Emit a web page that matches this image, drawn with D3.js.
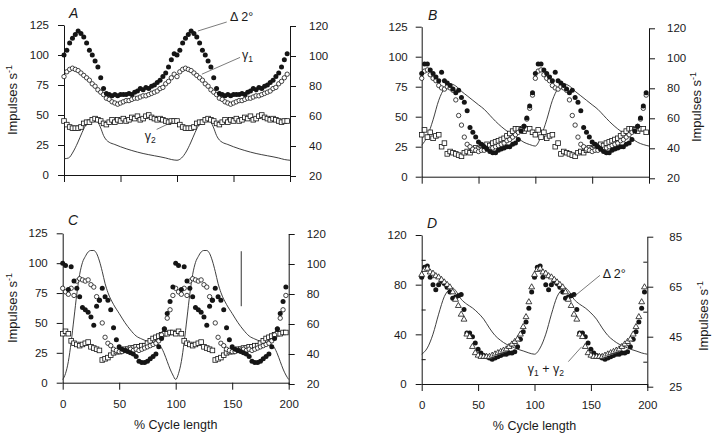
<!DOCTYPE html>
<html><head><meta charset="utf-8">
<script src="https://cdn.jsdelivr.net/npm/d3@7"></script>
<style>
body{margin:0;background:#fff}
svg{display:block}
text{font-family:"Liberation Sans",Arial,Helvetica,sans-serif;fill:#1a1a1a}
</style>
</head><body>
<svg id="c" width="720" height="438"></svg>
<script>
// ---------------- DATA (one recorded cycle, plotted twice as in the figure) ----------------
const cyclePct = [0,2.5,5,7.5,10,12.5,15,17.5,20,22.5,25,27.5,30,32.5,35,37.5,40,42.5,45,47.5,
                  50,52.5,55,57.5,60,62.5,65,67.5,70,72.5,75,77.5,80,82.5,85,87.5,90,92.5,95,97.5];
const xTicks = [0,50,100,150,200];
const leftTicksABC = [0,25,50,75,100,125];
const rightTicksABC = [20,40,60,80,100,120];
const leftTicksD = [0,40,80,120];
const leftMinorD = [20,60,100];
const rightTicksD = [25,45,65,85];
const rightMinorD = [35,55,75];

// Panel A
const A_delta = [100,104,110,114,117,120,118,115,110,104,100,95,90,81,72,68,67,66,67,66,
                 67,67,67,68,67,69,70,72,71,73,72,74,75,77,79,82,85,90,96,101];
const A_g1    = [82,86,88,89,88,87,85,83,81,79,76,74,71,69,67,64,63,61,60,59,
                 60,61,62,62,63,64,64,65,66,66,67,68,69,70,72,73,76,78,81,84];
const A_g2    = [45,42,40,39,39,39,40,43,44,44,46,47,46,45,43,42,44,46,44,46,
                 45,47,45,46,48,47,49,46,47,49,50,48,47,46,47,46,45,44,45,45];
const A_lineX = [0,4,8,12,16,20,24,27,30,32.5,35,37.5,40,45,50,60,70,80,90,95,100];
const A_lineY = [31.5,32,36,42,49,55,58,58.5,56,52,47,44,42.5,41,39.5,37,35,33.5,32,31,30.5];

// Panel B
const B_delta = [86,94,94,89,86,83,80,87,80,78,76,73,70,72,66,62,55,41,37,33,
                 29,27,25,23,21,20,20,22,23,24,25,25,27,28,31,38,42,49,59,70];
const B_g1    = [82,88,89,85,82,80,76,74,73,75,74,72,64,51,43,33,27,25,23,22,
                 21,22,22,23,23,24,25,26,27,28,30,31,33,35,37,39,42,48,57,68];
const B_g2    = [35,39,33,37,32,34,35,25,28,19,21,20,19,18,17,20,21,20,22,24,
                 23,26,25,27,26,28,29,30,31,32,34,36,38,40,40,39,38,40,40,37];
const B_lineX = [0,5,10,15,20,25,30,35,40,45,50,55,60,65,70,75,80,85,90,95,100];
const B_lineY = [42,48,59,72,80,83,81.5,78,75,72,69,66,62,58,54.5,51.5,49,46.5,44,42.5,41.5];

// Panel C
const C_delta = [100,98,78,97,85,79,72,63,61,59,55,48,64,69,79,72,69,61,46,36,
                 30,28,27,26,25,24,22,18,17,17,18,20,22,24,30,37,45,58,68,80];
const C_g1    = [79,76,74,79,73,85,87,86,85,86,82,80,72,69,50,38,33,31,28,27,
                 26,26,27,27,28,27,28,27,28,29,30,31,32,33,35,40,45,54,61,73];
const C_g2    = [41,43,41,35,33,32,31,32,33,34,30,29,28,27,19,20,21,23,25,26,
                 26,27,28,28,29,29,30,30,31,31,33,35,37,38,39,40,41,41,42,42];
const C_lineX = [0,2.5,5,7.5,10,12.5,15,17.5,20,22.5,25,27.5,30,32.5,35,37.5,40,45,50,55,
                 60,65,70,75,80,85,87.5,90,92.5,95,97.5,100];
const C_lineY = [23,27,35,48,64,80,93,101,105,108,109,109,107,102,95,87,81,73,67,61,
                 56,52,50,48.5,47.5,46,44,40,35,30,26,23];
const C_bar = {pct:158, from:64, to:110};

// Panel D
const D_delta = [86,94,95,86,80,76,80,83,81,78,74,69,70,71,72,60,41,41,38,33,
                 28,25,23,22,21,20,21,22,23,24,24,25,25,26,30,36,42,50,61,74];
const D_sum   = [88,92,93,90,89,87,86,84,82,80,78,74,68,63,56,52,40,38,30,25,
                 23,22,22,22,22,23,24,25,26,27,28,30,32,34,36,40,46,54,66,78];
const D_lineX = [0,5,10,15,20,25,27.5,30,35,40,45,50,55,60,65,70,75,80,85,90,95,100];
const D_lineY = [38,40.5,46,54,61,64,64.5,63.5,60,58,56.5,54.5,52,48.5,45.5,43.5,42,41,40,39.3,38.5,38];

// ---------------- HELPERS ----------------
const twoCycles = (ys) => [0,100].flatMap(off => cyclePct.map((x,i)=>({x:x+off, y:ys[i]})));
const lineTwo = (xs, ys) => {
  const a = xs.map((x,i)=>({x, y:ys[i]}));
  const b = xs.slice(1).map((x,i)=>({x:x+100, y:ys[i+1]}));
  return a.concat(b);
};

const svg = d3.select('#c');
const INK = '#151515';

function styleAxis(g){
  g.selectAll('path.domain').attr('stroke', INK).attr('stroke-width', 1);
  g.selectAll('.tick line').attr('stroke', INK).attr('stroke-width', 1);
  g.selectAll('.tick text').attr('font-size', 11.5).attr('fill', '#1a1a1a')
   .attr('font-family','"Liberation Sans",Arial,sans-serif');
}

function gammaLabel(g, x, y, parts){
  const t = g.append('text').attr('x', x).attr('y', y).attr('font-size', 12.5);
  parts.forEach(p => {
    if (p.sub) t.append('tspan').attr('dy', 3).attr('font-size', 8.5).text(p.sub);
    else t.append('tspan').attr('dy', p.reset ? -3 : 0).text(p.t);
  });
  return t;
}

function yLabel(x, y){
  const t = svg.append('text')
    .attr('transform', `translate(${x},${y}) rotate(-90)`)
    .attr('text-anchor', 'middle').attr('font-size', 13);
  t.append('tspan').text('Impulses s');
  t.append('tspan').attr('dy', -5).attr('font-size', 9).text('-1');
}

function panel(cfg){
  const g = svg.append('g');
  const x = d3.scaleLinear([0,200], [cfg.x0, cfg.x1]);
  const yL = d3.scaleLinear(cfg.leftDomain, [cfg.yBot, cfg.yTop]);
  const yR = d3.scaleLinear(cfg.rightDomain, [cfg.rBot, cfg.rTop]);

  // axes
  const ax = g.append('g').attr('transform', `translate(0,${cfg.yBot})`)
    .call(d3.axisBottom(x).tickValues(xTicks).tickSize(7).tickSizeOuter(0).tickPadding(10)
      .tickFormat(cfg.xLabels ? d3.format('d') : () => ''));
  styleAxis(ax);
  const al = g.append('g').attr('transform', `translate(${cfg.x0},0)`)
    .call(d3.axisLeft(yL).tickValues(cfg.leftTicks).tickSize(6).tickSizeOuter(0).tickPadding(cfg.lPad));
  styleAxis(al);
  const ar = g.append('g').attr('transform', `translate(${cfg.x1},0)`)
    .call(d3.axisRight(yR).tickValues(cfg.rightTicks).tickSize(6).tickSizeOuter(0).tickPadding(cfg.rPad));
  styleAxis(ar);
  if (cfg.leftMinor){
    const m = g.append('g').attr('transform', `translate(${cfg.x0},0)`)
      .call(d3.axisLeft(yL).tickValues(cfg.leftMinor).tickSize(-4).tickFormat(() => ''));
    m.select('path.domain').remove(); styleAxis(m);
  }
  if (cfg.rightMinor){
    const m = g.append('g').attr('transform', `translate(${cfg.x1},0)`)
      .call(d3.axisRight(yR).tickValues(cfg.rightMinor).tickSize(-4).tickFormat(() => ''));
    m.select('path.domain').remove(); styleAxis(m);
  }

  // length trace (right axis)
  const line = d3.line().x(d => x(d.x)).y(d => yR(d.y)).curve(d3.curveMonotoneX);
  g.append('path').datum(lineTwo(cfg.lineX, cfg.lineY))
    .attr('d', line).attr('fill', 'none').attr('stroke', '#2a2a2a').attr('stroke-width', 0.9);

  // squares (gamma 2)
  if (cfg.g2){
    const s = 4.6;
    g.append('g').selectAll('rect').data(twoCycles(cfg.g2)).join('rect')
      .attr('x', d => x(d.x) - s/2).attr('y', d => yL(d.y) - s/2)
      .attr('width', s).attr('height', s)
      .attr('fill', '#fff').attr('stroke', INK).attr('stroke-width', 0.8);
  }
  // open circles (gamma 1)
  if (cfg.g1){
    g.append('g').selectAll('circle').data(twoCycles(cfg.g1)).join('circle')
      .attr('cx', d => x(d.x)).attr('cy', d => yL(d.y)).attr('r', 2.2)
      .attr('fill', '#fff').attr('stroke', INK).attr('stroke-width', 0.8);
  }
  // filled circles (Delta 2°)
  g.append('g').selectAll('circle').data(twoCycles(cfg.delta)).join('circle')
    .attr('cx', d => x(d.x)).attr('cy', d => yL(d.y)).attr('r', 2.5)
    .attr('fill', INK);
  // triangles (gamma1 + gamma2)
  if (cfg.sum){
    const tri = d3.symbol(d3.symbolTriangle, 15);
    g.append('g').selectAll('path').data(twoCycles(cfg.sum)).join('path')
      .attr('transform', d => `translate(${x(d.x)},${yL(d.y)})`)
      .attr('d', tri).attr('fill', '#fff').attr('stroke', INK).attr('stroke-width', 0.8);
  }

  // panel letter
  g.append('text').attr('x', cfg.letterX).attr('y', cfg.letterY)
    .attr('font-size', 14).attr('font-style', 'italic').text(cfg.letter);

  // x-axis title
  if (cfg.xLabels){
    g.append('text').attr('x', (cfg.x0 + cfg.x1)/2).attr('y', cfg.yBot + 46)
      .attr('text-anchor', 'middle').attr('font-size', 12.5).text('% Cycle length');
  }
  return {g, x, yL, yR};
}

// ---------------- PANELS ----------------
const pA = panel({letter:'A', letterX:69, letterY:18, x0:64, x1:290, yTop:25, yBot:175,
  leftDomain:[0,125], rightDomain:[20,120], rTop:26, rBot:176,
  leftTicks:leftTicksABC, rightTicks:rightTicksABC, lPad:9, rPad:13, xLabels:false,
  delta:A_delta, g1:A_g1, g2:A_g2, lineX:A_lineX, lineY:A_lineY});

const pB = panel({letter:'B', letterX:428, letterY:20, x0:421.7, x1:649, yTop:26.7, yBot:176.7,
  leftDomain:[0,125], rightDomain:[20,120], rTop:28.3, rBot:178.3,
  leftTicks:leftTicksABC, rightTicks:rightTicksABC, lPad:8, rPad:12, xLabels:false,
  delta:B_delta, g1:B_g1, g2:B_g2, lineX:B_lineX, lineY:B_lineY});

const pC = panel({letter:'C', letterX:68, letterY:225, x0:62.7, x1:288.7, yTop:233.3, yBot:382.7,
  leftDomain:[0,125], rightDomain:[20,120], rTop:234, rBot:384,
  leftTicks:leftTicksABC, rightTicks:rightTicksABC, lPad:9, rPad:12, xLabels:true,
  delta:C_delta, g1:C_g1, g2:C_g2, lineX:C_lineX, lineY:C_lineY});

const pD = panel({letter:'D', letterX:427, letterY:228, x0:421.7, x1:647.3, yTop:235, yBot:384,
  leftDomain:[0,120], rightDomain:[25,85], rTop:236.7, rBot:386.7,
  leftTicks:leftTicksD, rightTicks:rightTicksD, leftMinor:leftMinorD, rightMinor:rightMinorD,
  lPad:9, rPad:16, xLabels:true,
  delta:D_delta, sum:D_sum, lineX:D_lineX, lineY:D_lineY});

// scale bar in C
pC.g.append('line')
  .attr('x1', pC.x(C_bar.pct)).attr('x2', pC.x(C_bar.pct))
  .attr('y1', pC.yL(C_bar.from)).attr('y2', pC.yL(C_bar.to))
  .attr('stroke', '#333').attr('stroke-width', 1);

// annotations (data coordinates, left axis)
function leader(p, x1, y1, x2, y2){
  p.g.append('line').attr('x1', p.x(x1)).attr('y1', p.yL(y1))
    .attr('x2', p.x(x2)).attr('y2', p.yL(y2))
    .attr('stroke', '#444').attr('stroke-width', 0.7);
}
pA.g.append('text').attr('x', pA.x(147)).attr('y', pA.yL(128)).attr('font-size', 12.5).text('\u0394 2\u00b0');
leader(pA, 144, 127.5, 118.5, 120);
gammaLabel(pA.g, pA.x(157.5), pA.yL(97), [{t:'\u03b3'},{sub:'1'}]);
leader(pA, 155.8, 98, 122, 84);
gammaLabel(pA.g, pA.x(71.5), pA.yL(29.5), [{t:'\u03b3'},{sub:'2'}]);
leader(pA, 82, 38, 96.5, 44.5);

pD.g.append('text').attr('x', pD.x(160.5)).attr('y', pD.yL(85.5)).attr('font-size', 12.5).text('\u0394 2\u00b0');
leader(pD, 158, 87.5, 134.5, 70);
gammaLabel(pD.g, pD.x(94), pD.yL(8.5), [{t:'\u03b3'},{sub:'1'},{t:' + \u03b3', reset:true},{sub:'2'}]);
leader(pD, 130, 18, 141.8, 30);

// axis titles
yLabel(17, 100);
yLabel(17, 308);
yLabel(701, 107);
yLabel(708, 316);
</script>
</body></html>
